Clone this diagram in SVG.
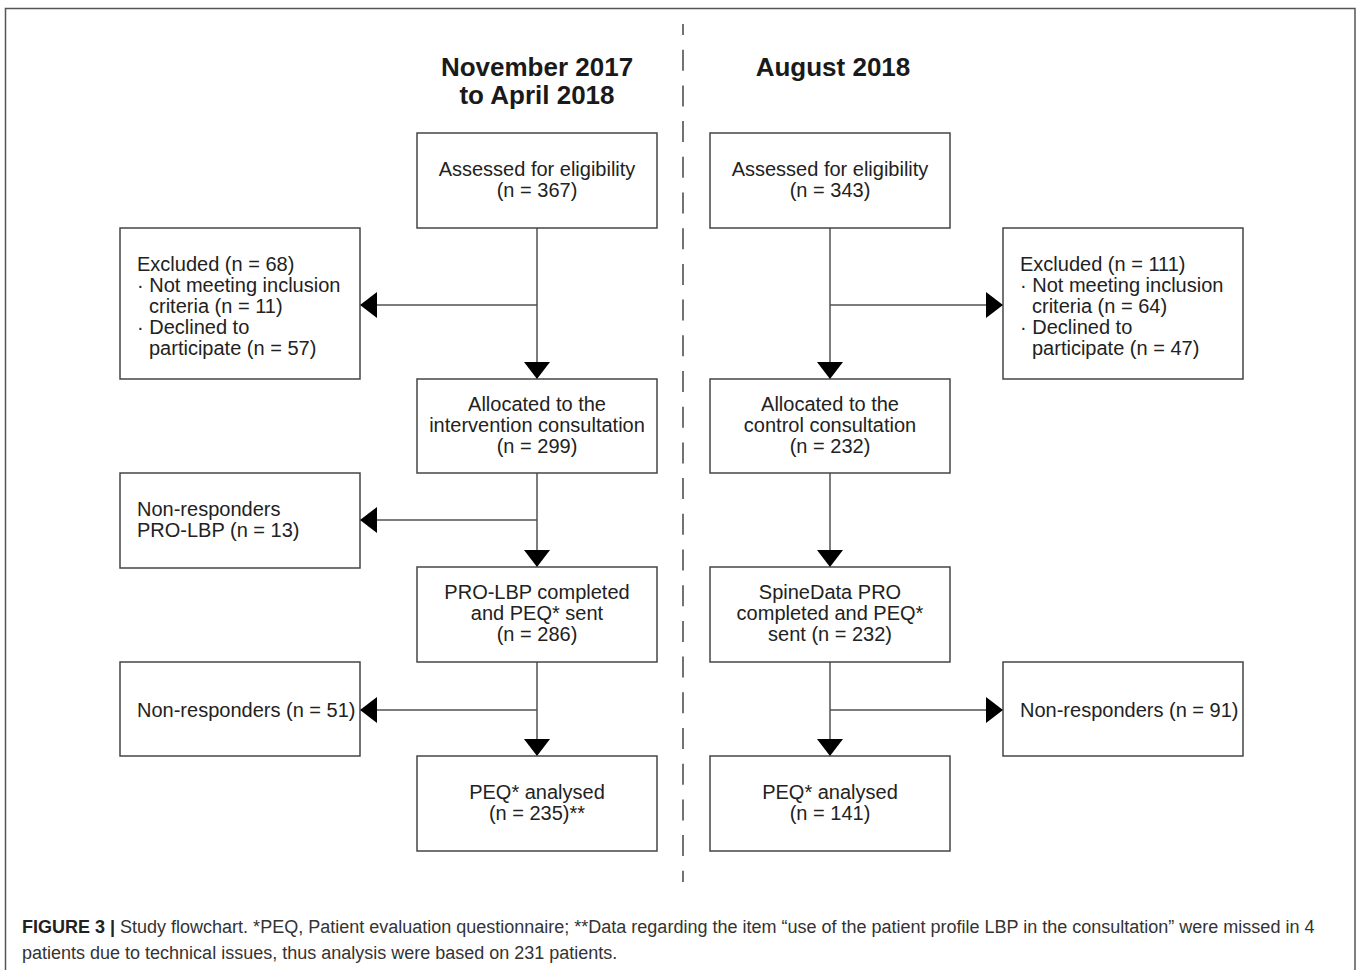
<svg xmlns="http://www.w3.org/2000/svg" width="1357" height="970" viewBox="0 0 1357 970">
<defs>
<style>
.box{fill:#fff;stroke:#454545;stroke-width:1.5}
.t{font-family:"Liberation Sans",Arial,sans-serif;font-size:20px;fill:#222}
.c{text-anchor:middle}
.h{font-family:"Liberation Sans",Arial,sans-serif;font-size:26px;font-weight:bold;fill:#1a1a1a;text-anchor:middle}
.ln{fill:none;stroke:#505050;stroke-width:1.5}
.cap{font-family:"Liberation Sans",Arial,sans-serif;font-size:18px;fill:#333}
</style>
<marker id="ah" viewBox="0 0 17 26" refX="17" refY="13" markerWidth="17" markerHeight="26" markerUnits="userSpaceOnUse" orient="auto">
<path d="M0,0 L17,13 L0,26 Z" fill="#000"/>
</marker>
</defs>
<rect width="1357" height="970" fill="#fff"/>
<path d="M5.5,972 V8.5 H1355 V972" fill="none" stroke="#555" stroke-width="1.5"/>
<line x1="683" y1="24" x2="683" y2="882" stroke="#444" stroke-width="1.5" stroke-dasharray="21 14.7" stroke-dashoffset="10"/>
<g id="headers">
<text class="h" x="537" y="76">November 2017</text>
<text class="h" x="537" y="104">to April 2018</text>
<text class="h" x="833" y="76">August 2018</text>
</g>
<g id="connectors">
<line class="ln" x1="537" y1="228" x2="537" y2="379" marker-end="url(#ah)"/>
<line class="ln" x1="537" y1="305" x2="360" y2="305" marker-end="url(#ah)"/>
<line class="ln" x1="537" y1="473" x2="537" y2="567" marker-end="url(#ah)"/>
<line class="ln" x1="537" y1="520" x2="360" y2="520" marker-end="url(#ah)"/>
<line class="ln" x1="537" y1="662" x2="537" y2="756" marker-end="url(#ah)"/>
<line class="ln" x1="537" y1="710" x2="360" y2="710" marker-end="url(#ah)"/>
<line class="ln" x1="830" y1="228" x2="830" y2="379" marker-end="url(#ah)"/>
<line class="ln" x1="830" y1="305" x2="1003" y2="305" marker-end="url(#ah)"/>
<line class="ln" x1="830" y1="473" x2="830" y2="567" marker-end="url(#ah)"/>
<line class="ln" x1="830" y1="662" x2="830" y2="756" marker-end="url(#ah)"/>
<line class="ln" x1="830" y1="710" x2="1003" y2="710" marker-end="url(#ah)"/>
</g>
<g id="L-assessed">
<rect class="box" x="417" y="133" width="240" height="95"/>
<text class="t c" x="537" y="176">Assessed for eligibility</text>
<text class="t c" x="537" y="197">(n = 367)</text>
</g>
<g id="L-excluded">
<rect class="box" x="120" y="228" width="240" height="151"/>
<text class="t" x="137" y="271">Excluded (n = 68)</text>
<text class="t" x="137" y="292">· Not meeting inclusion</text>
<text class="t" x="149" y="313">criteria (n = 11)</text>
<text class="t" x="137" y="334">· Declined to</text>
<text class="t" x="149" y="355">participate (n = 57)</text>
</g>
<g id="L-allocated">
<rect class="box" x="417" y="379" width="240" height="94"/>
<text class="t c" x="537" y="411">Allocated to the</text>
<text class="t c" x="537" y="432">intervention consultation</text>
<text class="t c" x="537" y="453">(n = 299)</text>
</g>
<g id="L-nonresp1">
<rect class="box" x="120" y="473" width="240" height="95"/>
<text class="t" x="137" y="516">Non-responders</text>
<text class="t" x="137" y="537">PRO-LBP (n = 13)</text>
</g>
<g id="L-completed">
<rect class="box" x="417" y="567" width="240" height="95"/>
<text class="t c" x="537" y="599">PRO-LBP completed</text>
<text class="t c" x="537" y="620">and PEQ* sent</text>
<text class="t c" x="537" y="641">(n = 286)</text>
</g>
<g id="L-nonresp2">
<rect class="box" x="120" y="662" width="240" height="94"/>
<text class="t" x="137" y="717">Non-responders (n = 51)</text>
</g>
<g id="L-analysed">
<rect class="box" x="417" y="756" width="240" height="95"/>
<text class="t c" x="537" y="799">PEQ* analysed</text>
<text class="t c" x="537" y="820">(n = 235)**</text>
</g>
<g id="R-assessed">
<rect class="box" x="710" y="133" width="240" height="95"/>
<text class="t c" x="830" y="176">Assessed for eligibility</text>
<text class="t c" x="830" y="197">(n = 343)</text>
</g>
<g id="R-excluded">
<rect class="box" x="1003" y="228" width="240" height="151"/>
<text class="t" x="1020" y="271">Excluded (n = 111)</text>
<text class="t" x="1020" y="292">· Not meeting inclusion</text>
<text class="t" x="1032" y="313">criteria (n = 64)</text>
<text class="t" x="1020" y="334">· Declined to</text>
<text class="t" x="1032" y="355">participate (n = 47)</text>
</g>
<g id="R-allocated">
<rect class="box" x="710" y="379" width="240" height="94"/>
<text class="t c" x="830" y="411">Allocated to the</text>
<text class="t c" x="830" y="432">control consultation</text>
<text class="t c" x="830" y="453">(n = 232)</text>
</g>
<g id="R-completed">
<rect class="box" x="710" y="567" width="240" height="95"/>
<text class="t c" x="830" y="599">SpineData PRO</text>
<text class="t c" x="830" y="620">completed and PEQ*</text>
<text class="t c" x="830" y="641">sent (n = 232)</text>
</g>
<g id="R-nonresp">
<rect class="box" x="1003" y="662" width="240" height="94"/>
<text class="t" x="1020" y="717">Non-responders (n = 91)</text>
</g>
<g id="R-analysed">
<rect class="box" x="710" y="756" width="240" height="95"/>
<text class="t c" x="830" y="799">PEQ* analysed</text>
<text class="t c" x="830" y="820">(n = 141)</text>
</g>
<g id="caption">
<text class="cap" x="22" y="933"><tspan font-weight="bold" fill="#222">FIGURE 3 |</tspan> Study flowchart. *PEQ, Patient evaluation questionnaire; **Data regarding the item “use of the patient profile LBP in the consultation” were missed in 4</text>
<text class="cap" x="22" y="959">patients due to technical issues, thus analysis were based on 231 patients.</text>
</g>
</svg>
